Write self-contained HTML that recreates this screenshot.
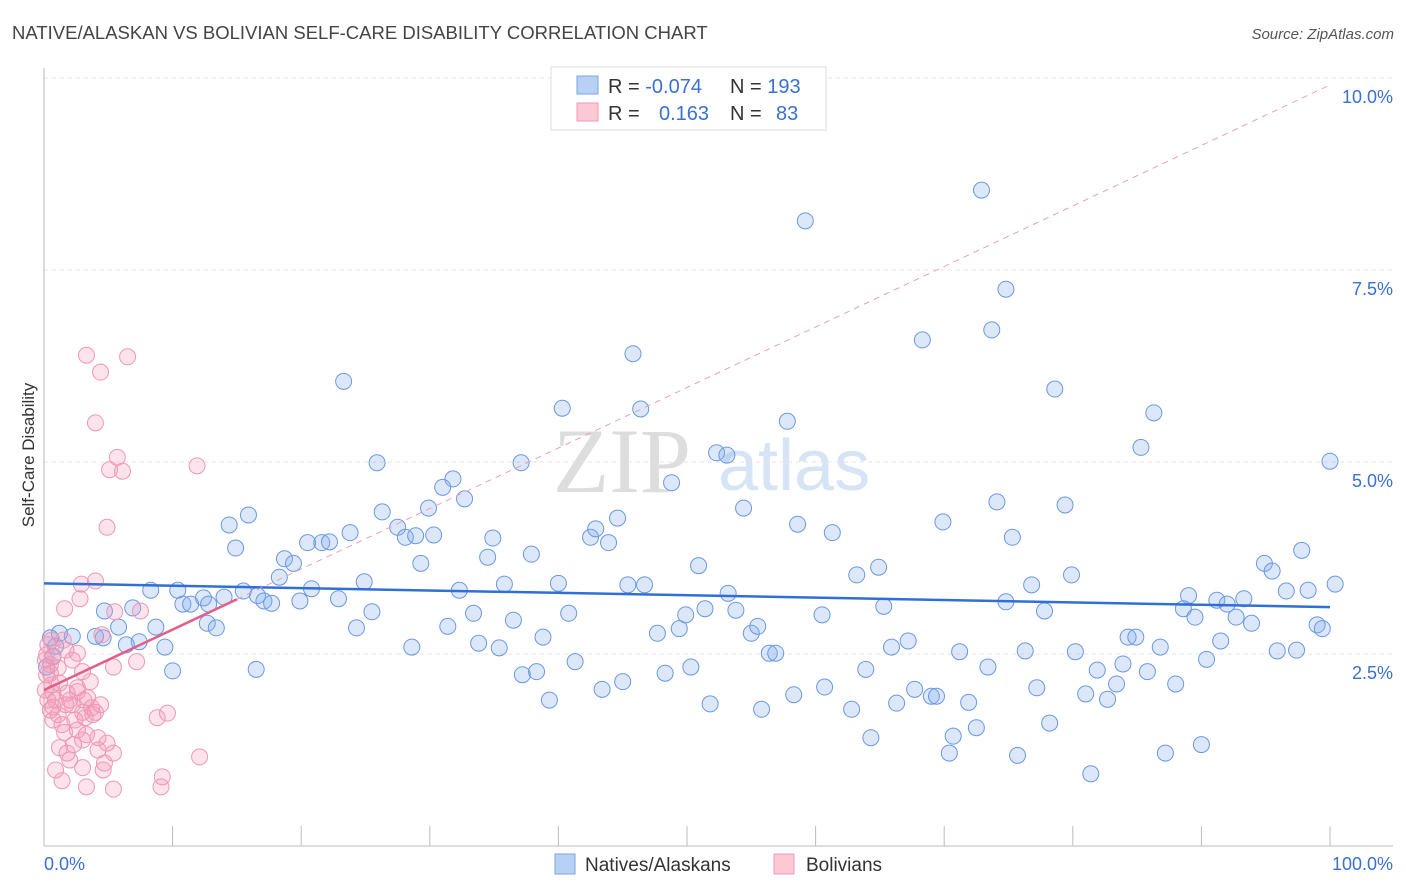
<!DOCTYPE html>
<html><head><meta charset="utf-8"><style>
body{margin:0;background:#fff;width:1406px;height:892px;overflow:hidden;font-family:"Liberation Sans",sans-serif}
svg{display:block}
</style></head><body>
<svg id="chart" width="1406" height="892" xmlns="http://www.w3.org/2000/svg">
<text x="12" y="39" font-size="18.5" fill="#444">NATIVE/ALASKAN VS BOLIVIAN SELF-CARE DISABILITY CORRELATION CHART</text>
<text x="1394" y="39" font-size="15" fill="#555" font-style="italic" text-anchor="end">Source: ZipAtlas.com</text>
<g>
<text x="553" y="492" font-size="92" font-family="Liberation Serif" fill="#ddd">ZIP</text>
<text x="718" y="490" font-size="72" fill="#d6e4f5">atlas</text>
</g>
<g id="grid"></g><g id="axes"></g><g id="pts"></g><g id="trend"></g>
<text transform="translate(34,455) rotate(-90)" font-size="17" fill="#333" text-anchor="middle">Self-Care Disability</text>
<g>
<rect x="551" y="67" width="275" height="63" fill="#fff" stroke="#ddd"/>
<rect x="577" y="76" width="21" height="18" fill="#b8d0f4" stroke="#7aa4e4"/>
<rect x="577" y="103" width="21" height="18" fill="#fbc8d6" stroke="#f09ab4"/>
<text x="608" y="93" font-size="20" fill="#333">R = <tspan fill="#3a70d0">-0.074</tspan></text>
<text x="730" y="93" font-size="20" fill="#333">N = <tspan fill="#3a70d0">193</tspan></text>
<text x="608" y="120" font-size="20" fill="#333">R = <tspan fill="#3a70d0" x="659">0.163</tspan></text>
<text x="730" y="120" font-size="20" fill="#333">N = <tspan fill="#3a70d0" x="776">83</tspan></text>
</g>
<g>
<rect x="555" y="854" width="20" height="20" fill="#b8d0f4" stroke="#7aa4e4"/>
<text x="585" y="871" font-size="19" fill="#333">Natives/Alaskans</text>
<rect x="774" y="854" width="20" height="20" fill="#fbc8d6" stroke="#f09ab4"/>
<text x="806" y="871" font-size="19" fill="#333">Bolivians</text>
</g>
</svg>
<script>
const yTicks=[2.5,5.0,7.5,10.0];
const yTickLabels=["2.5%","5.0%","7.5%","10.0%"];
const xTickCount=10;
const xLabels=["0.0%","100.0%"];
const blueX=[23.3,40.3,45.8,46.4,57.8,59.2,72.9,74.8,73.7,68.3,78.6,86.3,85.3,100.0,25.9,37.1,31.8,31.0,32.7,48.8,52.3,53.1,15.9,14.4,14.9,26.3,27.5,28.1,29.9,30.3,28.9,20.5,21.6,22.2,23.8,18.7,19.4,18.3,34.5,34.9,37.9,42.5,42.9,44.6,43.9,29.3,54.4,58.6,61.3,69.9,74.1,75.3,79.4,97.8,94.9,95.5,100.4,96.6,98.3,91.2,93.3,89.0,50.9,63.2,64.9,79.9,76.8,88.6,8.3,6.9,4.7,4.6,5.8,4.0,2.2,1.2,0.9,0.5,0.7,0.2,10.4,10.8,11.4,12.4,12.8,14.0,15.5,16.6,17.1,17.7,12.7,13.4,8.7,9.4,7.4,6.4,10.0,16.5,19.9,20.8,22.9,24.9,25.5,24.3,28.6,31.4,32.3,33.4,33.8,35.4,35.8,36.5,38.8,40.0,40.8,37.2,38.3,39.3,41.3,43.4,45.0,45.4,46.7,47.7,48.3,49.4,49.9,50.3,51.4,51.8,53.2,53.8,55.0,55.5,55.8,56.4,56.9,58.3,60.5,60.7,62.8,63.9,64.3,65.3,65.9,66.3,67.2,67.7,69.0,69.4,70.7,70.4,71.2,71.9,72.5,73.4,75.7,76.3,77.2,77.8,78.2,80.2,81.0,81.4,81.9,82.7,83.4,83.9,84.3,84.9,85.8,86.8,87.2,88.0,89.5,90.0,90.4,91.5,92.7,93.9,95.9,97.4,99.0,99.4,74.8,92.0];
const blueY=[6.05,5.70,6.41,5.69,5.53,8.14,8.54,7.25,6.72,6.59,5.95,5.64,5.19,5.01,4.99,4.99,4.78,4.67,4.52,4.73,5.12,5.09,4.31,4.18,3.88,4.35,4.15,4.02,4.40,4.05,4.04,3.95,3.95,3.96,4.08,3.74,3.68,3.50,3.76,4.01,3.80,4.02,4.13,4.27,3.95,3.68,4.40,4.19,4.08,4.22,4.48,4.02,4.44,3.85,3.68,3.58,3.41,3.32,3.33,3.20,3.22,3.26,3.65,3.53,3.63,3.53,3.40,3.09,3.33,3.10,3.06,2.71,2.85,2.73,2.73,2.77,2.60,2.71,2.47,2.33,3.33,3.15,3.15,3.23,3.15,3.24,3.32,3.26,3.19,3.16,2.90,2.84,2.85,2.59,2.66,2.62,2.28,2.30,3.19,3.35,3.22,3.44,3.05,2.84,2.59,2.86,3.33,3.03,2.64,2.58,3.41,2.94,2.72,3.42,3.03,2.23,2.27,1.90,2.40,2.04,2.14,3.40,3.40,2.77,2.25,2.83,3.01,2.33,3.09,1.85,3.29,3.07,2.77,2.86,1.78,2.51,2.51,1.97,3.01,2.07,1.78,2.30,1.41,3.12,2.59,1.86,2.67,2.04,1.95,1.95,1.43,1.21,2.53,1.87,1.54,2.33,1.18,2.54,2.06,3.06,1.60,2.53,1.98,0.94,2.29,1.91,2.11,2.37,2.72,2.72,2.27,2.59,1.21,2.11,2.98,1.32,2.43,2.67,2.98,2.90,2.54,2.55,2.88,2.83,3.18,3.15];
const pinkX=[3.3,6.5,4.4,4.0,5.7,5.1,6.1,11.9,4.9,2.9,4.0,2.8,1.6,5.5,7.5,4.5,1.5,2.6,0.7,2.2,5.4,7.2,3.0,0.5,1.2,3.6,0.7,1.8,2.6,0.7,2.2,3.0,3.8,0.7,8.8,9.6,1.6,2.6,3.0,4.2,4.9,1.2,1.8,4.2,5.4,4.7,12.1,3.0,4.6,1.4,3.3,5.4,9.2,9.1,0.3,0.2,0.5,0.2,0.6,0.1,0.9,0.5,1.1,2.0,2.4,1.4,3.4,3.7,3.3,2.3,1.7,2.6,3.1,4.0,1.1,1.7,0.1,4.4,3.2,2.0,0.9,0.3,0.6];
const pinkY=[6.39,6.37,6.17,5.51,5.06,4.90,4.88,4.95,4.15,3.41,3.45,3.22,3.09,3.05,3.06,2.75,2.68,2.51,2.46,2.42,2.33,2.40,2.27,2.25,2.12,2.14,1.99,1.99,2.01,1.81,1.84,1.74,1.71,1.64,1.67,1.73,1.48,1.51,1.38,1.41,1.34,1.28,1.21,1.25,1.21,1.08,1.16,1.02,0.99,0.85,0.77,0.74,0.90,0.77,2.62,2.49,2.36,2.23,2.10,2.03,1.90,1.77,1.71,1.90,1.64,1.58,1.93,1.80,1.45,1.32,1.84,2.06,1.90,1.74,2.32,2.55,2.42,1.84,1.67,1.12,0.99,1.90,2.68];
const blueTrend=[3.42,3.11];
const pinkTrend=[2.03,9.91];
const pinkSolidEnd=15;

const NS="http://www.w3.org/2000/svg";
const X0=44,X1=1330,Y0=846,PX=(X1-X0)/100,PY=76.8;
const sx=v=>X0+v*PX, sy=v=>Y0-v*PY;
function mk(tag,attrs,parent){const e=document.createElementNS(NS,tag);for(const k in attrs)e.setAttribute(k,attrs[k]);parent.appendChild(e);return e;}
const grid=document.getElementById('grid'),axes=document.getElementById('axes'),pts=document.getElementById('pts'),trend=document.getElementById('trend');
yTicks.forEach((t,i)=>{
 const l=mk('line',{x1:X0,x2:1393,y1:sy(t),y2:sy(t),stroke:'#e4e4e4','stroke-dasharray':'4,4'},grid);
 
 
 const tx=mk('text',{x:1393,y:sy(t)+25,'font-size':18,fill:'#3a70d0','text-anchor':'end'},grid);
 tx.textContent=yTickLabels[i];
 
 
});
const ax=mk('line',{x1:X0,x2:X0,y1:68,y2:Y0,stroke:'#bbb'},axes);


const bx=mk('line',{x1:X0,x2:1393,y1:Y0,y2:Y0,stroke:'#bbb'},axes);


for(let i=0;i<=xTickCount;i++){
 const t=mk('line',{x1:sx(i*10),x2:sx(i*10),y1:826,y2:Y0,stroke:'#bbb'},axes);
 
 
}
const xl0=mk('text',{x:44,y:870,'font-size':18,fill:'#3a70d0'},axes);xl0.textContent=xLabels[0];


const xl1=mk('text',{x:1393,y:870,'font-size':18,fill:'#3a70d0','text-anchor':'end'},axes);xl1.textContent=xLabels[1];


function dots(xs,ys,fill,stroke,name){
 xs.forEach((x,i)=>{
  const c=mk('circle',{cx:sx(x),cy:sy(ys[i]),r:8,fill:fill,stroke:stroke,'stroke-width':1},pts);
  
  
 });
}
dots(blueX,blueY,'rgba(130,172,238,0.28)','#6a98e2','native-point');
dots(pinkX,pinkY,'rgba(245,155,185,0.28)','#ee98b4','bolivian-point');
const bt=mk('line',{x1:sx(0),y1:sy(blueTrend[0]),x2:sx(100),y2:sy(blueTrend[1]),stroke:'#2f6fd6','stroke-width':2.5},trend);


const pAt=x=>pinkTrend[0]+(pinkTrend[1]-pinkTrend[0])*x/100;
const pd=mk('line',{x1:sx(pinkSolidEnd),y1:sy(pAt(pinkSolidEnd)),x2:sx(100),y2:sy(pAt(100)),stroke:'#e8a0b8','stroke-width':1,'stroke-dasharray':'6,5'},trend);


const ps=mk('line',{x1:sx(0),y1:sy(pAt(0)),x2:sx(pinkSolidEnd),y2:sy(pAt(pinkSolidEnd)),stroke:'#e0608a','stroke-width':2.5},trend);


</script>
</body></html>
